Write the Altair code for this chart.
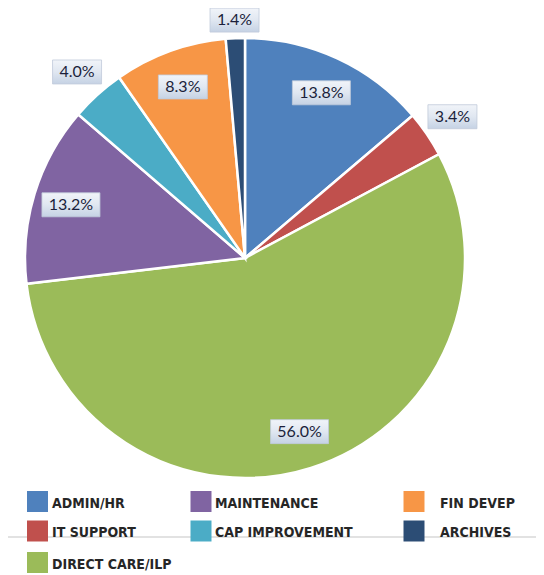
import altair as alt
import pandas as pd

categories = ["ADMIN/HR", "IT SUPPORT", "DIRECT CARE/ILP", "MAINTENANCE",
              "CAP IMPROVEMENT", "FIN DEVEP", "ARCHIVES"]
values = [13.8, 3.4, 56.0, 13.2, 4.0, 8.3, 1.4]
labels = ["13.8%", "3.4%", "56.0%", "13.2%", "4.0%", "8.3%", "1.4%"]
colors = ["#4F81BD", "#C0504D", "#9BBB59", "#8064A2", "#4BACC6", "#F79646", "#2C4D75"]

df = pd.DataFrame({"cat": categories, "value": values, "label": labels,
                   "i": list(range(len(categories)))})

CX, CY, R = 237, 250, 220
color_scale = alt.Scale(domain=categories, range=colors)
base = alt.Chart(df)

pie = base.mark_arc(outerRadius=R, stroke="white", strokeWidth=2.5).encode(
    theta=alt.Theta("value:Q", stack=True),
    order=alt.Order("i:Q"),
    color=alt.Color("cat:N", scale=color_scale, legend=None),
    x=alt.value(CX), y=alt.value(CY),
)

lab = base.transform_joinaggregate(total="sum(value)").transform_window(
    cum="sum(value)", sort=[alt.SortField("i")], frame=[None, 0]
).transform_calculate(
    ang="(datum.cum - datum.value/2)/datum.total*2*PI",
    r="datum.value < 5 ? 251 - 13*pow(abs(cos(datum.ang)), 12) : 182",
    lx=f"{CX} + datum.r*sin(datum.ang)",
    ly=f"{CY} - datum.r*cos(datum.ang)",
    bw="length(datum.label)*9 + 13",
    bx1="datum.lx - datum.bw/2",
    bx2="datum.lx + datum.bw/2",
    by1="datum.ly - 12",
    by2="datum.ly + 12",
)

grad = alt.LinearGradient(
    gradient="linear",
    stops=[alt.GradientStop(color="#f1f4f9", offset=0),
           alt.GradientStop(color="#e0e7f1", offset=0.5),
           alt.GradientStop(color="#c5d2e4", offset=1)],
    x1=0, x2=0, y1=0, y2=1,
)

boxes = lab.mark_rect(fill=grad, stroke="#c0cadb", strokeWidth=0.8).encode(
    x=alt.X("bx1:Q", scale=None, axis=None), x2="bx2:Q",
    y=alt.Y("by1:Q", scale=None, axis=None), y2="by2:Q",
)

texts = lab.mark_text(font="Lato", fontSize=16, color="#1b1f3b",
                      align="center", baseline="middle").encode(
    x=alt.X("lx:Q", scale=None, axis=None),
    y=alt.Y("ly:Q", scale=None, axis=None),
    text="label:N",
)

divider = alt.Chart(pd.DataFrame({"a": [0]})).mark_rule(
    color="#d9d9d9", strokeWidth=1.5).encode(
    x=alt.value(0), x2=alt.value(528), y=alt.value(529))

leg = base.transform_calculate(
    col="datum.i < 3 ? 0 : (datum.i < 5 ? 1 : 2)",
    row="datum.i < 3 ? datum.i : (datum.i < 5 ? datum.i - 3 : datum.i - 5)",
    sx="[29.5, 193, 406][datum.col]",
    tx="[44, 207, 432][datum.col]",
    sy="[493.5, 523, 554.5][datum.row]",
)

leg_sq = leg.mark_square(size=441, opacity=1).encode(
    x=alt.X("sx:Q", scale=None, axis=None),
    y=alt.Y("sy:Q", scale=None, axis=None),
    color=alt.Color("cat:N", scale=color_scale, legend=None),
)

leg_txt = leg.mark_text(font="Liberation Sans Narrow, DejaVu Sans Condensed, sans-serif",
                        fontSize=14, fontWeight="bold", color="#262626",
                        align="left", baseline="middle", dy=2).encode(
    x=alt.X("tx:Q", scale=None, axis=None),
    y=alt.Y("sy:Q", scale=None, axis=None),
    text="cat:N",
)

chart = alt.layer(pie, boxes, texts, divider, leg_sq, leg_txt).properties(
    width=528, height=567, autosize="none", padding=0
).configure_view(stroke=None)

chart.save("out.html", embed_options={"renderer": "svg", "actions": False})
